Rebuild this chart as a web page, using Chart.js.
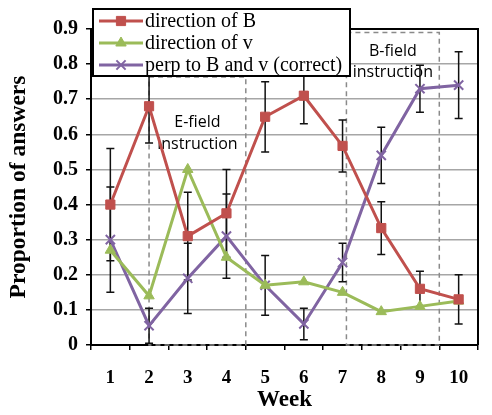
<!DOCTYPE html>
<html>
<head>
<meta charset="utf-8">
<script src="https://cdn.jsdelivr.net/npm/chart.js@4"></script>
<style>
  html, body { margin: 0; padding: 0; background: #fff; }
  #wrap { width: 492px; height: 415px; }
</style>
</head>
<body>
<div id="wrap"><canvas id="chart" width="492" height="415"></canvas></div>
<script>
const weeks = ["1", "2", "3", "4", "5", "6", "7", "8", "9", "10"];
const dirB = [0.40, 0.68, 0.31, 0.375, 0.65, 0.71, 0.567, 0.333, 0.16, 0.13];
const dirV = [0.27, 0.14, 0.50, 0.25, 0.17, 0.18, 0.15, 0.095, 0.11, 0.125];
const perp = [0.30, 0.055, 0.19, 0.31, 0.17, 0.06, 0.235, 0.54, 0.73, 0.74];
// +/- error on the B and perp series (green has none)
const errB = [0.16, 0.105, 0.125, 0.125, 0.10, 0.08, 0.074, 0.075, 0.05, 0.07];
const errPerp = [0.15, 0.05, 0.10, 0.12, 0.085, 0.045, 0.055, 0.08, 0.067, 0.095];
const yTicks = [0, 0.1, 0.2, 0.3, 0.4, 0.5, 0.6, 0.7, 0.8, 0.9];

// instruction periods: [from index, to index, top value, label lines]
const eField = { from: 1, to: 3.5, top: 0.763, text: ["E-field", "instruction"] };
const bField = { from: 6.1, to: 8.5, top: 0.89, text: ["B-field", "instruction"] };

const RED = "#c0504d", GREEN = "#9bbb59", PURPLE = "#8064a2";
const serif = "'Liberation Serif', 'Times New Roman', serif";

const extras = {
  id: "extras",
  beforeDatasetsDraw(chart) {
    const { ctx, scales: { x, y } } = chart;
    ctx.save();
    // dashed instruction boxes
    ctx.strokeStyle = "#8a8a8a";
    ctx.lineWidth = 1.5;
    ctx.setLineDash([5, 4]);
    [eField, bField].forEach(b => {
      const x0 = x.getPixelForValue(b.from), x1 = x.getPixelForValue(b.to);
      const y0 = y.getPixelForValue(b.top), y1 = y.getPixelForValue(0);
      ctx.strokeRect(x0, y0, x1 - x0, y1 - y0);
    });
    ctx.setLineDash([]);
    // box labels
    ctx.fillStyle = "#000";
    ctx.font = "16px 'Open Sans', 'DejaVu Sans', sans-serif";
    ctx.textAlign = "center";
    ctx.textBaseline = "middle";
    const lbl = (b, v0, v1) => {
      const cx = (x.getPixelForValue(b.from) + x.getPixelForValue(b.to)) / 2;
      ctx.fillText(b.text[0], cx, y.getPixelForValue(v0));
      ctx.fillText(b.text[1], cx, y.getPixelForValue(v1));
    };
    lbl(eField, 0.635, 0.57);
    lbl(bField, 0.835, 0.775);
    // error bars
    ctx.strokeStyle = "#111";
    ctx.lineWidth = 1.5;
    const bars = (vals, errs) => vals.forEach((v, i) => {
      const px = x.getPixelForValue(i);
      const lo = y.getPixelForValue(Math.max(0, v - errs[i]));
      const hi = y.getPixelForValue(v + errs[i]);
      ctx.beginPath();
      ctx.moveTo(px, lo); ctx.lineTo(px, hi);
      ctx.moveTo(px - 4, lo); ctx.lineTo(px + 4, lo);
      ctx.moveTo(px - 4, hi); ctx.lineTo(px + 4, hi);
      ctx.stroke();
    });
    bars(dirB, errB);
    bars(perp, errPerp);
    ctx.restore();
  },
  afterDraw(chart) {
    const { ctx, chartArea: a } = chart;
    ctx.save();
    // frame on top and right
    ctx.strokeStyle = "#000";
    ctx.lineWidth = 2;
    ctx.beginPath();
    ctx.moveTo(a.left, a.top); ctx.lineTo(a.right, a.top); ctx.lineTo(a.right, a.bottom);
    ctx.stroke();
    // legend box
    ctx.fillStyle = "#fff";
    ctx.fillRect(93, 9, 257, 67);
    ctx.strokeRect(93, 9, 257, 67);
    chart.data.datasets.forEach((ds, i) => {
      const ly = 21 + i * 22;
      ctx.strokeStyle = ds.borderColor;
      ctx.lineWidth = 3;
      ctx.beginPath();
      ctx.moveTo(99, ly); ctx.lineTo(143, ly);
      ctx.stroke();
      ctx.fillStyle = ds.pointBackgroundColor;
      ctx.strokeStyle = ds.pointBorderColor;
      ctx.lineWidth = ds.pointBorderWidth;
      Chart.helpers.drawPoint(ctx, { pointStyle: ds.pointStyle, radius: ds.pointRadius, rotation: 0, borderWidth: ds.pointBorderWidth }, 121, ly);
      ctx.fillStyle = "#000";
      ctx.font = "20px " + serif;
      ctx.textAlign = "left";
      ctx.textBaseline = "middle";
      ctx.fillText(ds.label, 145, ly + 1);
    });
    ctx.restore();
  }
};

new Chart(document.getElementById("chart"), {
  type: "line",
  data: {
    labels: weeks,
    datasets: [
      { label: "direction of B", data: dirB, borderColor: RED, borderWidth: 3,
        pointStyle: "rect", pointRadius: 6.5, pointBackgroundColor: RED, pointBorderColor: RED, pointBorderWidth: 1 },
      { label: "direction of v", data: dirV, borderColor: GREEN, borderWidth: 3,
        pointStyle: "triangle", pointRadius: 6, pointBackgroundColor: GREEN, pointBorderColor: GREEN, pointBorderWidth: 1 },
      { label: "perp to B and v (correct)", data: perp, borderColor: PURPLE, borderWidth: 3,
        pointStyle: "crossRot", pointRadius: 6.5, pointBackgroundColor: PURPLE, pointBorderColor: PURPLE, pointBorderWidth: 2 }
    ]
  },
  options: {
    responsive: false,
    animation: false,
    layout: { padding: { top: 29, right: 14, bottom: 0, left: 0 } },
    plugins: { legend: { display: false }, tooltip: { enabled: false } },
    scales: {
      x: {
        offset: true,
        grid: { offset: true, drawOnChartArea: false, drawTicks: true, tickLength: 5, color: "#000", lineWidth: 1.5 },
        border: { color: "#000", width: 2 },
        ticks: { color: "#000", padding: 17, font: { family: serif, size: 19, weight: "bold" } },
        title: { display: true, text: "Week", color: "#000", padding: { top: 0, bottom: 1 },
                 font: { family: serif, size: 23, weight: "bold" } },
        afterFit: s => { s.height = 70; }
      },
      y: {
        min: 0, max: 0.9,
        afterBuildTicks: s => { s.ticks = yTicks.map(v => ({ value: v })); },
        grid: { color: "#a6a6a6", lineWidth: 1.5, tickLength: 5, tickColor: "#000" },
        border: { color: "#000", width: 2 },
        ticks: { color: "#000", padding: 8, font: { family: serif, size: 20, weight: "bold" },
                 callback: v => v === 0 ? "0" : v.toFixed(1) },
        title: { display: true, text: "Proportion of answers", color: "#000", padding: { top: 5, bottom: 0 },
                 font: { family: serif, size: 23.5, weight: "bold" } },
        afterFit: s => { s.width = 91; }
      }
    }
  },
  plugins: [extras]
});
</script>
</body>
</html>
